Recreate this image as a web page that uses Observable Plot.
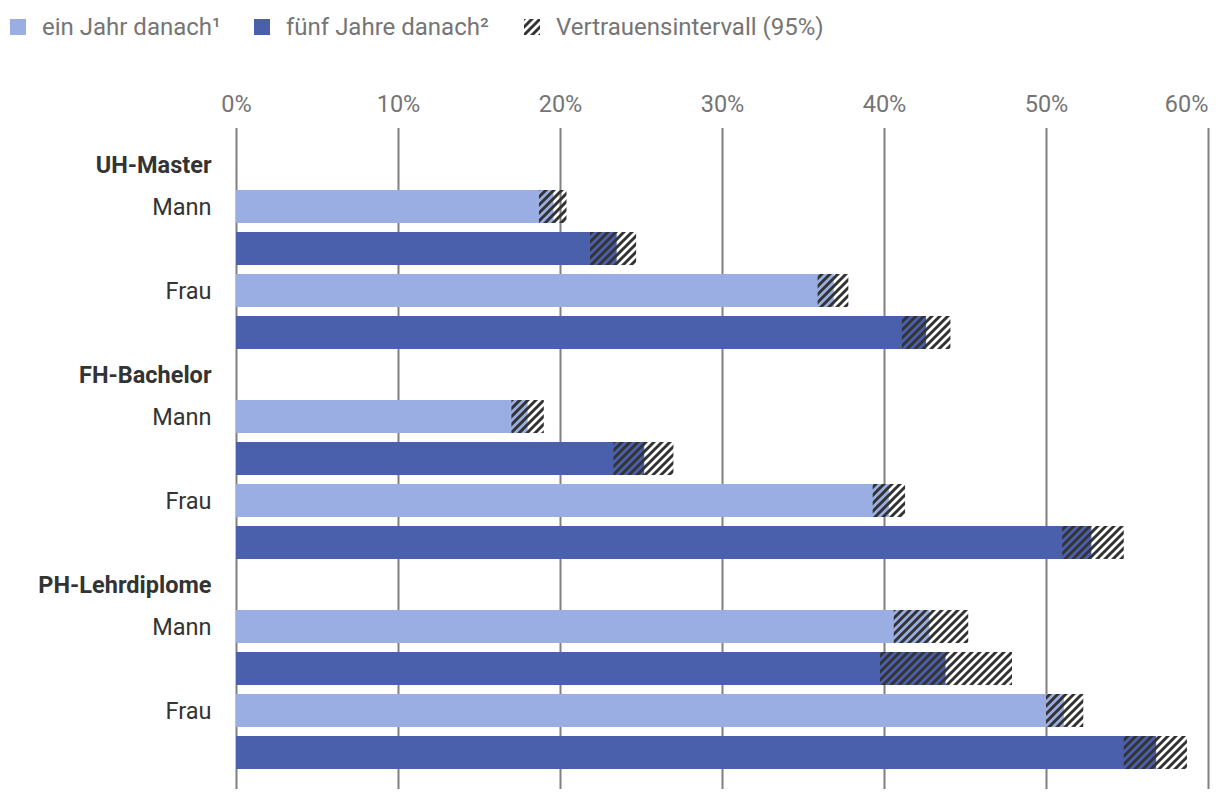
<!DOCTYPE html>
<html>
<head>
<meta charset="utf-8">
<script src="https://cdn.jsdelivr.net/npm/d3@7"></script>
<script src="https://cdn.jsdelivr.net/npm/@observablehq/plot@0.6"></script>
<style>
  html, body { margin: 0; padding: 0; background: #fff; }
  body { width: 1220px; height: 802px; overflow: hidden; font-family: Roboto, sans-serif; }
  #legend { position: relative; height: 56px; font-size: 24px; color: #757575; }
  .item { position: absolute; top: 14px; display: flex; align-items: center; height: 26px; white-space: nowrap; }
  .sw { width: 16px; height: 16px; margin-right: 16px; flex: none; }
  #chart svg { display: block; }
</style>
</head>
<body>
<div id="legend"></div>
<div id="chart"></div>
<script>
// ---- data ----
const groups = ["UH-Master", "FH-Bachelor", "PH-Lehrdiplome"];
const sexes = ["Mann", "Frau"];
const periods = ["ein Jahr danach¹", "fünf Jahre danach²"];
const ciLabel = "Vertrauensintervall (95%)";
// order: group -> sex -> period
const values = [19.6, 23.5, 36.9, 42.6, 18.0, 25.2, 40.3, 52.8, 42.8, 43.8, 51.1, 56.8];
const lower  = [18.7, 21.85, 35.9, 41.1, 17.0, 23.3, 39.3, 51.0, 40.6, 39.75, 50.0, 54.8];
const upper  = [20.4, 24.7, 37.8, 44.1, 19.0, 27.0, 41.3, 54.8, 45.2, 47.9, 52.3, 58.7];
const xTicks = [0, 10, 20, 30, 40, 50, 60];

const colors = ["#9BAEE3", "#4A60AD"];
const hatchDark = "#333333";

// ---- build table ----
const slots = [];
const rows = [];
const headerRows = [];
const sexRows = [];
let i = 0;
for (const g of groups) {
  slots.push(g);
  headerRows.push({slot: g, label: g});
  for (const s of sexes) {
    periods.forEach((p, pi) => {
      const slot = `${g}|${s}|${p}`;
      slots.push(slot);
      rows.push({slot, group: g, sex: s, period: p, value: values[i], lo: lower[i], hi: upper[i]});
      if (pi === 0) sexRows.push({slot, label: s});
      i++;
    });
  }
}

// ---- legend ----
const legend = document.getElementById("legend");
const legendItems = [
  {left: 10, label: periods[0], sw: `<div class="sw" style="background:${colors[0]}"></div>`},
  {left: 254, label: periods[1], sw: `<div class="sw" style="background:${colors[1]}"></div>`},
  {left: 524, label: ciLabel, sw: `<svg class="sw" width="16" height="16" viewBox="0 0 16 16"><defs><pattern id="lh" patternUnits="userSpaceOnUse" width="8" height="8"><path d="M-2,2 L2,-2 M0,8 L8,0 M6,10 L10,6" stroke="${hatchDark}" stroke-width="3"/></pattern></defs><rect width="16" height="16" fill="url(#lh)"/></svg>`}
];
for (const it of legendItems) {
  const d = document.createElement("div");
  d.className = "item";
  d.style.left = it.left + "px";
  d.innerHTML = it.sw + `<span>${it.label}</span>`;
  legend.appendChild(d);
}

// ---- chart ----
const defs = () => {
  const g = d3.create("svg:g");
  const p = g.append("defs").append("pattern")
    .attr("id", "hatch")
    .attr("patternUnits", "userSpaceOnUse")
    .attr("width", 8).attr("height", 8);
  p.append("path")
    .attr("d", "M-2,2 L2,-2 M0,8 L8,0 M6,10 L10,6")
    .attr("stroke", hatchDark)
    .attr("stroke-width", 3);
  return g.node();
};

const fs = 23.5;
const chart = Plot.plot({
  width: 1220,
  height: 746,
  marginTop: 72,
  marginBottom: 13,
  marginLeft: 236,
  marginRight: 12,
  style: {fontFamily: "Roboto, sans-serif", fontSize: fs + "px", background: "#fff", overflow: "visible"},
  x: {domain: [0, 60], axis: null},
  y: {type: "band", domain: slots, range: [87.5, 717.5], paddingInner: 0.214, paddingOuter: 0.107, axis: null},
  color: {domain: periods, range: colors},
  marks: [
    defs,
    Plot.ruleX(xTicks, {stroke: "#808080", strokeWidth: 2}),
    Plot.axisX(xTicks.slice(0, -1), {anchor: "top", tickSize: 0, tickPadding: 17, tickFormat: d => d + "%", color: "#757575", fontSize: fs, label: null}),
    Plot.axisX(xTicks.slice(-1), {anchor: "top", tickSize: 0, tickPadding: 17, tickFormat: d => d + "%", color: "#757575", fontSize: fs, textAnchor: "end", label: null}),
    Plot.barX(rows, {x1: 0, x2: "value", y: "slot", fill: "period"}),
    Plot.barX(rows, {x1: "lo", x2: "hi", y: "slot", fill: "url(#hatch)"}),
    Plot.text(headerRows, {y: "slot", text: "label", frameAnchor: "left", textAnchor: "end", dx: -25, fontWeight: "bold", fill: "#333", fontSize: fs}),
    Plot.text(sexRows, {y: "slot", text: "label", frameAnchor: "left", textAnchor: "end", dx: -25, fill: "#333", fontSize: fs})
  ]
});
document.getElementById("chart").appendChild(chart);
</script>
</body>
</html>
